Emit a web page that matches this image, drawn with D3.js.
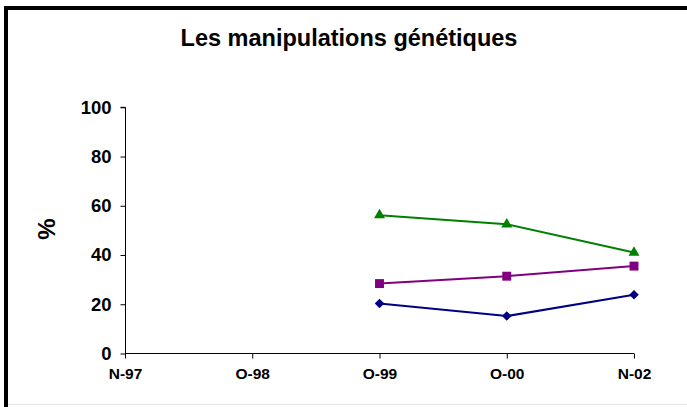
<!DOCTYPE html>
<html><head><meta charset="utf-8">
<script src="https://cdn.jsdelivr.net/npm/d3@7"></script>
<style>html,body{margin:0;padding:0;background:#fff;}svg{display:block;}</style>
</head><body>
<svg id="chart" width="687" height="407"></svg>
<script>
const categories = ["N-97", "O-98", "O-99", "O-00", "N-02"];
const seriesA = [null, null, 56.2, 52.5, 41.0];   // green triangles
const seriesB = [null, null, 28.4, 31.4, 35.5];   // purple squares
const seriesC = [null, null, 20.3, 15.2, 23.9];   // navy diamonds
const yTicks = [0, 20, 40, 60, 80, 100];
const title = "Les manipulations génétiques";
const yLabel = "%";

const svg = d3.select("#chart");
const font = "Arial, 'Liberation Sans', sans-serif";

// frame
svg.append("rect").attr("x", 6).attr("y", 8).attr("width", 690).attr("height", 410)
  .attr("fill", "none").attr("stroke", "#000").attr("stroke-width", 4);
svg.append("line").attr("x1", 8).attr("x2", 687).attr("y1", 404.5).attr("y2", 404.5)
  .attr("stroke", "#e6e6e6").attr("stroke-width", 1);

const x = d3.scalePoint().domain(categories).range([125, 634]);
const y = d3.scaleLinear().domain([0, 100]).range([353.5, 107.3]);

// title
svg.append("text").attr("x", 349).attr("y", 46).attr("text-anchor", "middle")
  .attr("font-family", font).attr("font-weight", "bold").attr("font-size", 23.5)
  .text(title);

// y axis label
svg.append("text").attr("transform", "translate(55,229) rotate(-90)")
  .attr("text-anchor", "middle").attr("font-family", font).attr("font-weight", "bold")
  .attr("font-size", 24).text(yLabel);

// axes
const yAxis = svg.append("g").attr("transform", "translate(125.5,0)")
  .call(d3.axisLeft(y).tickValues(yTicks).tickSize(5).tickPadding(9).tickFormat(d3.format("d")));
const xAxis = svg.append("g").attr("transform", "translate(0,353.5)")
  .call(d3.axisBottom(x).tickSize(5).tickPadding(9));
[yAxis, xAxis].forEach(g => {
  g.select(".domain").attr("stroke", "#000").attr("stroke-width", 1);
  g.selectAll(".tick line").attr("stroke", "#000");
  g.selectAll("text").attr("font-family", font).attr("font-weight", "bold").attr("fill", "#000");
});
yAxis.selectAll("text").attr("font-size", 18.5);
xAxis.selectAll("text").attr("font-size", 15.5);
yAxis.select(".domain").attr("d", `M-5,${y(100)}H0V${y(0)}`);
xAxis.select(".domain").attr("d", `M${x(categories[0])},0H${x(categories[categories.length-1])}`);

const series = [
  {vals: seriesA, color: "#008000", symbol: d3.symbolTriangle, size: 52, rot: 0},
  {vals: seriesB, color: "#800080", symbol: d3.symbolSquare, size: 80, rot: 0},
  {vals: seriesC, color: "#000080", symbol: d3.symbolSquare, size: 45, rot: 45}
];

const line = d3.line().defined(d => d.v != null).x(d => x(d.c)).y(d => y(d.v));
series.forEach(s => {
  const pts = categories.map((c, i) => ({c, v: s.vals[i]}));
  svg.append("path").datum(pts).attr("d", line).attr("fill", "none")
    .attr("stroke", s.color).attr("stroke-width", 2);
  svg.selectAll(null).data(pts.filter(d => d.v != null)).enter().append("path")
    .attr("transform", d => `translate(${x(d.c)},${y(d.v)}) rotate(${s.rot})`)
    .attr("d", d3.symbol().type(s.symbol).size(s.size)).attr("fill", s.color);
});
</script>
</body></html>
